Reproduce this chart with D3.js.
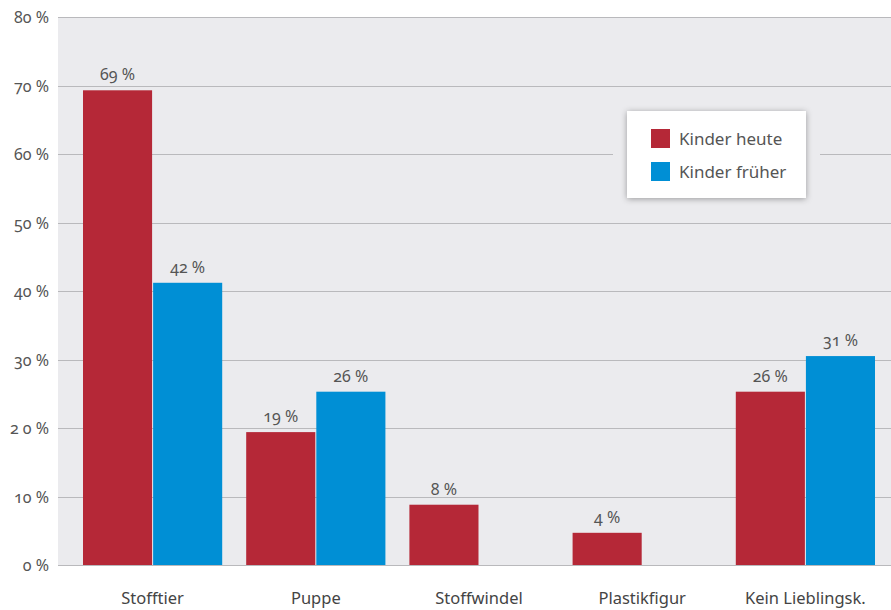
<!DOCTYPE html>
<html><head><meta charset="utf-8">
<script src="https://cdn.jsdelivr.net/npm/d3@7"></script>
<style>
html,body{margin:0;padding:0;background:#fff;}
svg text{font-family:"Noto Sans","Open Sans",sans-serif;font-feature-settings:"onum" 1;}
</style></head>
<body>
<svg id="chart" width="891" height="610"></svg>
<script>
const categories = ["Stofftier","Puppe","Stoffwindel","Plastikfigur","Kein Lieblingsk."];
const seriesNames = ["Kinder heute","Kinder früher"];
const heute = [69.3, 19.4, 8.8, 4.7, 25.3];
const frueher = [41.2, 25.3, null, null, 30.5];
const labelsHeute = ["69 %","19 %","8 %","4 %","26 %"];
const labelsFrueher = ["42 %","26 %",null,null,"31 %"];
const yTickValues = [0,10,20,30,40,50,60,70,80];
const yTickLabels = ["0 %","10 %","2 0 %","30 %","40 %","50 %","60 %","70 %","80 %"];
const colors = ["#b52837","#008fd5"];

const svg = d3.select("#chart");
const plotL = 58, plotR = 891, plotT = 17, plotB = 565;

const y = d3.scaleLinear().domain([0,80]).range([plotB, plotT]);
const x0 = d3.scaleBand().domain(categories).range([71, 887]).paddingInner(0.147).paddingOuter(0.0735);
const x1 = d3.scaleBand().domain([0,1]).range([0, x0.bandwidth()]).paddingInner(0.0145);

// background
svg.append("rect").attr("x", plotL).attr("y", plotT).attr("width", plotR-plotL).attr("height", plotB-plotT).attr("fill", "#ebebee");

// grid
svg.append("g").selectAll("line").data(yTickValues).join("line")
  .attr("x1", plotL).attr("x2", plotR)
  .attr("y1", d => Math.round(y(d))+0.5).attr("y2", d => Math.round(y(d))+0.5)
  .attr("stroke", "#b9b9bc").attr("stroke-width", 1);

// y labels
svg.append("g").selectAll("text").data(yTickValues).join("text")
  .attr("x", 49).attr("y", d => y(d)+6)
  .attr("text-anchor", "end").attr("font-size", 16).attr("fill", "#555")
  .text((d,i) => yTickLabels[i]);

// bars
const series = [heute, frueher];
const labelSeries = [labelsHeute, labelsFrueher];
const groups = svg.append("g");
series.forEach((vals, s) => {
  const g = groups.append("g");
  const data = categories.map((c,i) => ({c, v: vals[i], l: labelSeries[s][i]})).filter(d => d.v != null);
  g.selectAll("rect").data(data).join("rect")
    .attr("x", d => x0(d.c) + x1(s))
    .attr("y", d => y(d.v))
    .attr("width", x1.bandwidth())
    .attr("height", d => y(0) - y(d.v))
    .attr("fill", colors[s]);
  g.selectAll("text").data(data).join("text")
    .attr("x", d => x0(d.c) + x1(s) + x1.bandwidth()/2)
    .attr("y", d => y(d.v) - 10)
    .attr("text-anchor", "middle").attr("font-size", 16).attr("fill", "#555")
    .text(d => d.l);
});

// category labels
svg.append("g").selectAll("text").data(categories).join("text")
  .attr("x", d => x0(d) + x0.bandwidth()/2)
  .attr("y", 604)
  .attr("text-anchor", "middle").attr("font-size", 16.5).attr("fill", "#444")
  .text(d => d);

// legend
const defs = svg.append("defs");
const f = defs.append("filter").attr("id","sh").attr("x","-20%").attr("y","-20%").attr("width","140%").attr("height","150%");
f.append("feDropShadow").attr("dx",0).attr("dy",1).attr("stdDeviation",3).attr("flood-color","#000").attr("flood-opacity",0.35);
svg.append("rect").attr("x", 613).attr("y", 104).attr("width", 207).attr("height", 102).attr("fill", "#ebebee");
svg.append("rect").attr("x", 627).attr("y", 111).attr("width", 179).attr("height", 87).attr("fill", "#fff").attr("filter","url(#sh)");
const lg = svg.append("g").selectAll("g").data(seriesNames).join("g")
  .attr("transform", (d,i) => `translate(651, ${129 + i*33})`);
lg.append("rect").attr("width", 19).attr("height", 19).attr("fill", (d,i) => colors[i]);
lg.append("text").attr("x", 28).attr("y", 15.5).attr("font-size", 17).attr("fill", "#555").text(d => d);
</script>
</body></html>
